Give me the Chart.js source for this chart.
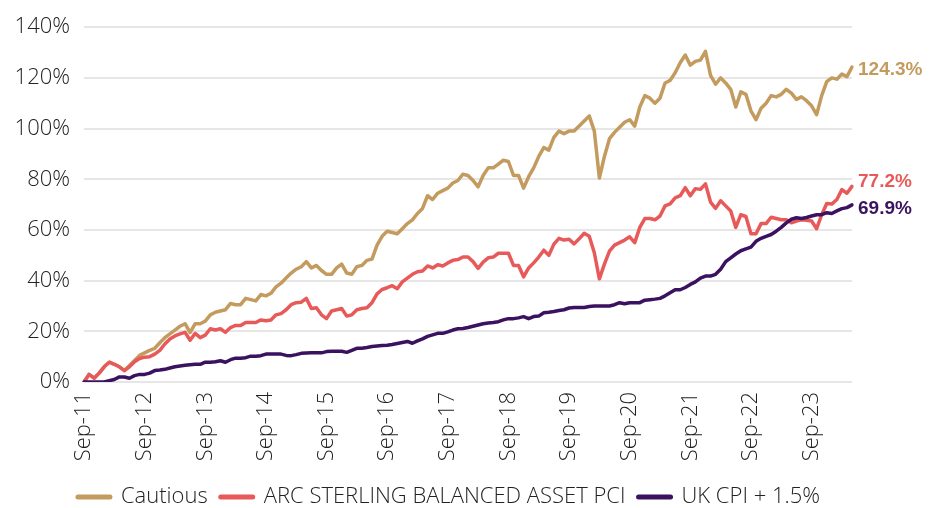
<!DOCTYPE html>
<html><head><meta charset="utf-8">
<script src="https://cdn.jsdelivr.net/npm/chart.js@4.4.1/dist/chart.umd.min.js"></script>
<style>html,body{margin:0;padding:0;background:#fff;overflow:hidden;}</style>
</head><body>
<canvas id="c" width="939" height="508"></canvas>
<script>
const seriesNames = ['Cautious', 'ARC STERLING BALANCED ASSET PCI', 'UK CPI + 1.5%'];

const cautious = [
  0,3,1.5,3.5,6,7.8,7,6,4.5,6.5,8.5,10.5,
  11.5,12.5,13.3,15.5,17.5,19,20.5,22,23,19.5,23,23,
  24,26.5,27.5,28,28.5,31,30.5,30.5,33,32.5,32,34.5,
  34,35,37.5,39,41,43,44.5,45.5,47.5,45,46,44,
  42.5,42.5,45,46.5,43,42.5,45.5,46,48,48.5,54,57.5,
  59.5,59,58.5,60.5,62.5,64,66.5,68.5,73.5,72,74.5,75.5,
  76.5,78.5,79.5,82,81.5,79.5,77,81.5,84.5,84.5,86,87.5,
  87,81.5,81.5,76.5,81,84.5,89,92.5,91.5,96.5,99,98,
  99,99,101,103,105,99,80.5,89,96,98.5,100.5,102.5,
  103.5,101,108.5,113,112,110,112,118,119,122,126,129,
  125,126.5,127,130.5,121,117.5,120,118,115.5,108.5,114.5,113.5,
  107,103.5,108,110,113,112.5,113.5,115.5,114,111.5,112.5,111,
  109,105.5,113,118.5,120,119.5,121.5,120.5,124.3
];

const arcBalanced = [
  0,3,1.5,3.5,6,7.8,7,6,4.5,6,8,9.3,
  9.8,10,11,12.5,15,17,18.2,19,19.6,16.5,19.2,17.5,
  18.5,21,20.5,21,19.6,21.5,22.3,22.3,23.5,23.5,23.5,24.5,
  24.2,24.5,26.5,27,28.5,30.5,31.3,31.5,33,29,29.3,26.5,
  25,28,28.5,29,26,26.5,28.5,29,29.3,31.3,34.8,36.5,
  37.2,38,36.8,39.5,41,42.5,43.5,43.8,45.8,45,46.3,45.8,
  47,48,48.3,49.3,49.3,47.5,44.8,47.3,49,49.3,50.8,50.8,
  50.8,46,46,41.5,45,47,49.3,52,50,54.4,56.7,56,
  56.3,54.5,56.5,58.7,57.5,51,40.7,46.5,51.6,54,55,56,
  57.3,55,61,64.5,64.5,64,65.5,69.5,70.3,72.7,73.5,76.7,
  73.5,76.3,76,78.2,71,68.5,71.5,69.5,67.5,61,66,65.3,
  58.5,58.5,62.5,62.5,65,64.5,64,64,62.8,63.5,64,63.8,
  63.5,60.5,66,70.4,70.2,72,75.9,74.5,77.2
];

const cpiPlus = [
  0,0,0,0,0,0.5,1,2,2,1.5,2.5,3,
  3,3.5,4.5,4.7,5,5.5,6,6.3,6.6,6.8,7,7,
  7.8,7.8,8,8.4,7.8,8.8,9.4,9.4,9.6,10.2,10.2,10.4,
  11,11,11,11,10.5,10.4,10.8,11.3,11.4,11.5,11.5,11.5,
  12,12.1,12.1,12.1,11.7,12.5,13.3,13.3,13.6,14,14.2,14.4,
  14.5,14.8,15.2,15.6,16,15.3,16.2,17,18,18.6,19.2,19.2,
  19.8,20.5,21,21.1,21.5,22,22.5,23,23.3,23.5,23.8,24.5,
  25,25,25.3,25.8,25,25.8,26,27.3,27.5,27.8,28.2,28.5,
  29.2,29.4,29.4,29.4,29.8,30,30,30,30,30.5,31.3,30.9,
  31.3,31.3,31.3,32.3,32.5,32.7,33,34,35.2,36.4,36.4,37.3,
  38.5,39.5,41,41.8,41.8,42.5,44.5,47.5,49,50.5,51.8,52.5,
  53.2,55.5,56.7,57.5,58.2,59.5,61,62.8,64.2,64.8,64.5,64.9,
  65.5,66,66,66.8,66.5,67.5,68.4,68.8,69.9
];

const tickLabels = ['Sep-11','Sep-12','Sep-13','Sep-14','Sep-15','Sep-16','Sep-17','Sep-18','Sep-19','Sep-20','Sep-21','Sep-22','Sep-23'];
const monthNames = ['Jan','Feb','Mar','Apr','May','Jun','Jul','Aug','Sep','Oct','Nov','Dec'];
const startMonthIndex = 8, startYear = 2011;
const categories = cautious.map((_, i) => {
  const m = (startMonthIndex + i) % 12;
  const y = startYear + Math.floor((startMonthIndex + i) / 12);
  return monthNames[m] + '-' + String(y).slice(2);
});

const colors = ['#C39B5E', '#E85A5A', '#3B1260'];
const endLabelNudge = [3, -5, 4];
const FONT = '"Open Sans", Lato, sans-serif';

const endLabels = {
  id: 'endLabels',
  afterDatasetsDraw(chart) {
    const ctx = chart.ctx;
    chart.data.datasets.forEach((ds, i) => {
      const meta = chart.getDatasetMeta(i);
      const pt = meta.data[meta.data.length - 1];
      ctx.save();
      ctx.font = 'bold 19px "Liberation Sans", Arial, sans-serif';
      ctx.fillStyle = ds.borderColor;
      ctx.textAlign = 'left';
      ctx.textBaseline = 'middle';
      ctx.fillText(ds.data[ds.data.length - 1].toFixed(1) + '%', pt.x + 6, pt.y + endLabelNudge[i]);
      ctx.restore();
    });
  }
};

new Chart(document.getElementById('c'), {
  type: 'line',
  data: {
    labels: categories,
    datasets: [
      { label: seriesNames[0], data: cautious, borderColor: colors[0], backgroundColor: colors[0], order: 3 },
      { label: seriesNames[1], data: arcBalanced, borderColor: colors[1], backgroundColor: colors[1], order: 2 },
      { label: seriesNames[2], data: cpiPlus, borderColor: colors[2], backgroundColor: colors[2], order: 1 }
    ]
  },
  options: {
    responsive: false,
    animation: false,
    devicePixelRatio: 1,
    layout: { padding: { left: 0, right: 41, top: 24, bottom: -10 } },
    elements: {
      line: { borderWidth: 3.5, tension: 0, borderJoinStyle: 'round', borderCapStyle: 'round' },
      point: { radius: 0 }
    },
    plugins: {
      tooltip: { enabled: false },
      legend: {
        position: 'bottom',
        reverse: true,
        labels: {
          usePointStyle: true,
          pointStyleWidth: 32,
          padding: 13,
          color: '#222',
          font: { family: FONT, size: 22, weight: '300' },
          generateLabels(chart) {
            const items = Chart.defaults.plugins.legend.labels.generateLabels(chart);
            items.forEach(it => {
              it.pointStyle = 'line';
              it.lineWidth = 5;
              it.lineCap = 'round';
              it.strokeStyle = it.fillStyle;
            });
            return items;
          }
        }
      }
    },
    scales: {
      x: {
        type: 'category',
        grid: { display: false, drawTicks: false },
        border: { display: false },
        ticks: {
          autoSkip: false,
          minRotation: 90,
          maxRotation: 90,
          padding: 10,
          color: '#222',
          font: { family: FONT, size: 22, weight: '300' },
          callback(v) {
            const l = this.getLabelForValue(v);
            return tickLabels.includes(l) ? l : '';
          }
        },
        afterFit(s) { s.height = 91; }
      },
      y: {
        min: 0, max: 140,
        grid: { color: '#e6e6e6', lineWidth: 2, drawTicks: false },
        border: { display: false },
        ticks: {
          stepSize: 20,
          padding: 14,
          color: '#222',
          font: { family: FONT, size: 22, weight: '300' },
          callback: v => v + '%'
        },
        afterFit(s) { s.width = 84; }
      },
      yPad: {
        position: 'right',
        display: true,
        grid: { display: false, drawTicks: false },
        border: { display: false },
        ticks: { display: false },
        afterFit(s) { s.width = 46; }
      }
    }
  },
  plugins: [endLabels]
});
</script>
</body></html>
